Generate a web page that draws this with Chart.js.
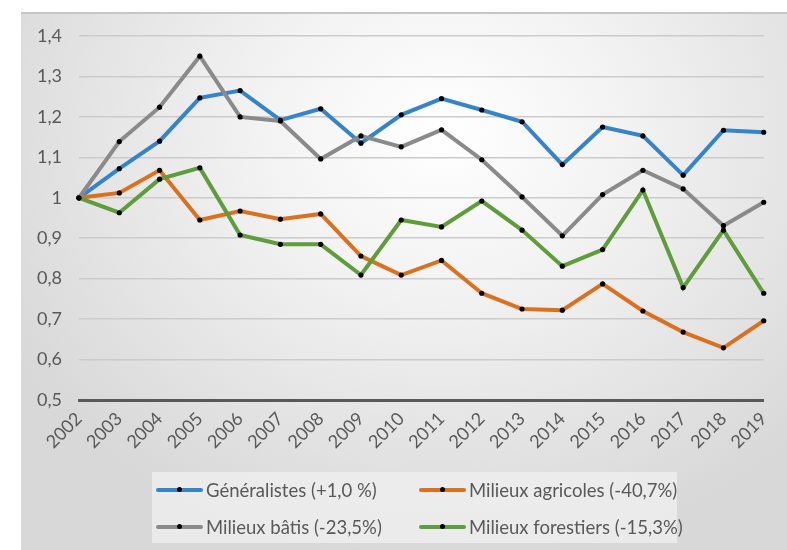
<!DOCTYPE html>
<html>
<head>
<meta charset="utf-8">
<script src="https://cdn.jsdelivr.net/npm/chart.js@4"></script>
<style>
  body { margin: 0; background: #fff; }
  #wrap { position: relative; width: 787px; height: 550px; }
  #frame {
    position: absolute; left: 21px; top: 12px; width: 766px; height: 538px;
    border-top: 2px solid #c6c6c6; box-sizing: border-box;
    background: radial-gradient(ellipse 65% 80% at 55% 22%, #ffffff 0%, #f3f3f3 35%, #d8d8d8 100%);
  }
  #myChart { position: absolute; left: 0; top: 0; }
  #legend {
    position: absolute; left: 152px; top: 472px; width: 525px; height: 71px;
    background: rgba(240, 240, 240, 0.75);
    font-family: Lato, "Open Sans", sans-serif; font-size: 18.5px; color: #595959;
  }
  .item { position: absolute; height: 22px; line-height: 22px; white-space: nowrap; }
  .swatch { position: absolute; left: 0; top: 9px; width: 47px; height: 4px; border-radius: 2px; }
  .swatch::after { content: ''; position: absolute; left: 21px; top: -1px; width: 5px; height: 5px; border-radius: 50%; background: #000; }
  .lbl { position: absolute; left: 50px; top: 0; }
</style>
</head>
<body>
<div id="wrap">
  <div id="frame"></div>
  <canvas id="myChart" width="787" height="550"></canvas>
  <div id="legend"></div>
</div>
<script>
let years = ['2002', '2003', '2004', '2005', '2006', '2007', '2008', '2009', '2010', '2011',
             '2012', '2013', '2014', '2015', '2016', '2017', '2018', '2019'];

let generalistes = [1.0, 1.072, 1.14, 1.247, 1.265, 1.192, 1.22, 1.135, 1.205, 1.245,
                    1.217, 1.188, 1.082, 1.175, 1.153, 1.056, 1.167, 1.162];
let agricoles = [1.0, 1.012, 1.068, 0.945, 0.967, 0.947, 0.96, 0.856, 0.809, 0.845,
                 0.764, 0.725, 0.722, 0.787, 0.72, 0.668, 0.629, 0.696];
let batis = [1.0, 1.139, 1.224, 1.35, 1.2, 1.19, 1.096, 1.153, 1.126, 1.168,
             1.094, 1.002, 0.906, 1.008, 1.068, 1.022, 0.931, 0.989];
let forestiers = [1.0, 0.963, 1.046, 1.074, 0.908, 0.885, 0.885, 0.809, 0.945, 0.928,
                  0.992, 0.92, 0.831, 0.872, 1.019, 0.778, 0.92, 0.764];

let seriesNames = ['Généralistes (+1,0 %)', 'Milieux agricoles (-40,7%)',
                   'Milieux bâtis (-23,5%)', 'Milieux forestiers (-15,3%)'];
let colors = ['#3584c8', '#d9711f', '#8a8a8a', '#5f9c3b'];

let ctx = document.getElementById('myChart').getContext('2d');

function line(i, data) {
    return {
        label: seriesNames[i],
        data: data,
        borderColor: colors[i],
        backgroundColor: colors[i],
        borderWidth: 4,
        pointRadius: 2.6,
        pointBackgroundColor: '#000',
        pointBorderWidth: 0,
        tension: 0
    };
}

let myChart = new Chart(ctx, {
    type: 'line',
    data: {
        labels: years,
        datasets: [
            line(2, batis),
            line(3, forestiers),
            line(1, agricoles),
            line(0, generalistes)
        ]
    },
    options: {
        responsive: false,
        animation: false,
        layout: { padding: { left: 21, right: 21, top: 36, bottom: 0 } },
        plugins: { legend: { display: false }, tooltip: { enabled: false } },
        scales: {
            x: {
                offset: false,
                grid: { display: false, drawTicks: false },
                border: { display: true, color: '#595959', width: 3 },
                ticks: {
                    color: '#595959',
                    font: { family: 'Lato', size: 18 },
                    minRotation: 45, maxRotation: 45,
                    padding: 8
                },
                afterFit: s => { s.height = 150; }
            },
            y: {
                min: 0.5, max: 1.4,
                grid: { color: '#cbcbcb', lineWidth: 1.5, drawTicks: false },
                border: { display: false },
                ticks: {
                    stepSize: 0.1,
                    color: '#595959',
                    font: { family: 'Lato', size: 18 },
                    padding: 17,
                    callback: v => (Math.round(v * 10) / 10).toString().replace('.', ',')
                },
                afterFit: s => { s.width = 58; }
            }
        }
    }
});

// legend, 2 columns like the original
let legend = document.getElementById('legend');
let pos = [[4, 7], [267, 7], [4, 44], [267, 44]];
seriesNames.forEach((n, i) => {
    let d = document.createElement('div');
    d.className = 'item';
    d.style.left = pos[i][0] + 'px';
    d.style.top = pos[i][1] + 'px';
    d.innerHTML = '<span class="swatch" style="background:' + colors[i] + '"></span><span class="lbl">' + n + '</span>';
    legend.appendChild(d);
});
</script>
</body>
</html>
